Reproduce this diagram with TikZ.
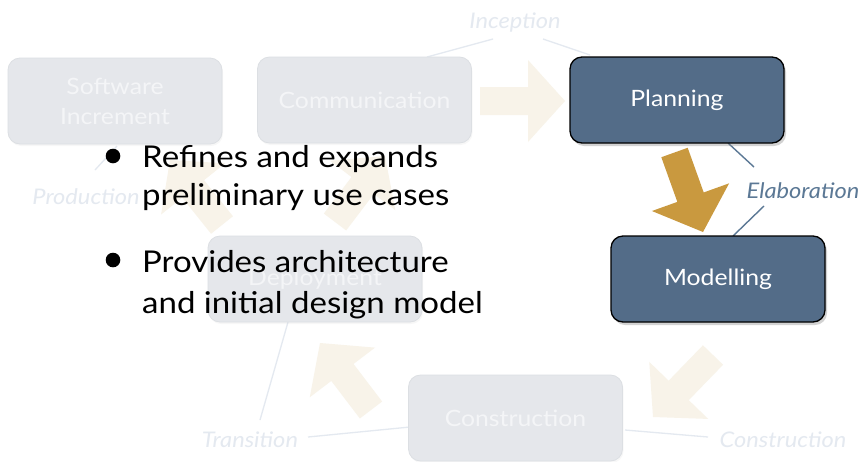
\documentclass[tikz,border=0pt]{standalone}
\usepackage{fontspec}
\setmainfont{Lato}[FakeStretch=1.1]
\usetikzlibrary{calc,shadows}
\definecolor{boxblue}{HTML}{536C88}
\definecolor{gold}{HTML}{C9993F}
\definecolor{cream}{HTML}{F8F3E9}
\definecolor{fadefill}{HTML}{E5E7EB}
\definecolor{fadeedge}{HTML}{DCDFE3}
\definecolor{fadetext}{HTML}{F4F5F7}
\definecolor{fadelabel}{HTML}{E4E9F0}
\definecolor{elab}{HTML}{5B7895}
\newcommand\fatarrow[3]{%
  \coordinate (fa-h) at ($(#3)!37pt!(#2)$);
  \fill[#1] ($(#2)!14pt!90:(#3)$) -- ($(fa-h)!14pt!90:(#3)$) -- ($(fa-h)!41pt!90:(#3)$) -- (#3)
    -- ($(fa-h)!41pt!-90:(#3)$) -- ($(fa-h)!14pt!-90:(#3)$) -- ($(#2)!14pt!-90:(#3)$) -- cycle;
}
\tikzset{
  boxbase/.style={rounded corners=12pt, minimum width=214pt, minimum height=86pt, align=center, font=\fontsize{22.5}{26}\selectfont},
  darkbox/.style={boxbase, draw=black, line width=1.3pt, fill=boxblue, text=white,
    drop shadow={opacity=0.35, shadow xshift=2pt, shadow yshift=-3pt}},
  fadebox/.style={boxbase, draw=fadeedge, line width=0.8pt, fill=fadefill, text=fadetext,
    drop shadow={opacity=0.06, shadow xshift=1pt, shadow yshift=-2pt}},
  phase/.style={text=fadelabel, font=\itshape\fontsize{21.5}{24}\selectfont, inner sep=0pt},
  phaseline/.style={draw=fadelabel, line width=1.3pt},
  elabline/.style={draw=elab, line width=1.4pt},
  bullettext/.style={anchor=base west, inner sep=0pt, font=\fontsize{30}{34}\selectfont},
}
\begin{document}
\begin{tikzpicture}[x=1pt,y=-1pt]
\useasboundingbox (0,0) rectangle (861,461);
\fill[white] (0,0) rectangle (861,461);
% phase labels
\node[phase] (inc) at (515,22) {Inception};
\node[phase, text=elab] (ela) at (803,191) {Elaboration};
\node[phase] (tra) at (250,440) {Transition};
\node[phase] (con) at (783,440) {Construction};
\node[phase] (pro) at (86,197) {Production};
% phase connector ends
\coordinate (i1) at (493,39); \coordinate (i2) at (427,57);
\coordinate (i3) at (543,39); \coordinate (i4) at (590,55);
\coordinate (e1) at (728,143); \coordinate (e2) at (754,167);
\coordinate (e3) at (764,206); \coordinate (e4) at (733,236);
\coordinate (t1) at (308,437); \coordinate (t2) at (410,427);
\coordinate (t3) at (260,420); \coordinate (t4) at (288,322);
\coordinate (c1) at (625,430); \coordinate (c2) at (708,437);
\coordinate (p1) at (95,170); \coordinate (p2) at (117,146);
\draw[phaseline] (i1) -- (i2);
\draw[phaseline] (i3) -- (i4);
\draw[phaseline] (t1) -- (t2);
\draw[phaseline] (t3) -- (t4);
\draw[phaseline] (c1) -- (c2);
\draw[phaseline] (p1) -- (p2);
\draw[elabline] (e1) -- (e2);
\draw[elabline] (e3) -- (e4);
% fat arrows
\coordinate (a1t) at (480,101); \coordinate (a1p) at (565,101);
\coordinate (a2t) at (674.5,152.5); \coordinate (a2p) at (703,232);
\coordinate (a3t) at (713,355); \coordinate (a3p) at (653,417);
\coordinate (a4t) at (371,410); \coordinate (a4p) at (320,343);
\coordinate (a5t) at (222,225); \coordinate (a5p) at (170,160);
\coordinate (a6t) at (335,222); \coordinate (a6p) at (385,156);
\fatarrow{cream}{a1t}{a1p}
\fatarrow{gold}{a2t}{a2p}
\fatarrow{cream}{a3t}{a3p}
\fatarrow{cream}{a4t}{a4p}
\fatarrow{cream}{a5t}{a5p}
\fatarrow{cream}{a6t}{a6p}
% boxes
\node[fadebox] (sw) at (115,101) {Software\\[4pt]Increment};
\node[fadebox] (comm) at (364.5,100) {Communication};
\node[darkbox] (plan) at (677,100) {Planning};
\node[darkbox] (model) at (718,279) {Modelling};
\node[fadebox] (dep) at (315,279) {Deployment};
\node[fadebox] (cons) at (515.5,418) {Construction};
% bullets
\fill (113,156) circle (7.3) coordinate (b1);
\fill (113,260) circle (7.3) coordinate (b2);
\node[bullettext] (l1) at (142,167) {Refines and expands};
\node[bullettext] (l2) at (142,205) {preliminary use cases};
\node[bullettext] (l3) at (142,272) {Provides architecture};
\node[bullettext] (l4) at (142,313) {and initial design model};
\end{tikzpicture}
\end{document}
